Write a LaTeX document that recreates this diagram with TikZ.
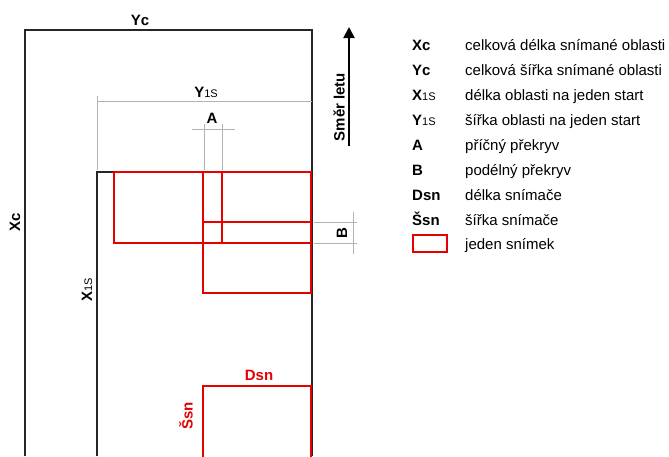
\documentclass[tikz,border=0pt]{standalone}
\usepackage{fontspec}
\setmainfont{Liberation Sans}
\usetikzlibrary{arrows.meta}
\definecolor{snred}{RGB}{230,0,0}
\definecolor{dimgray}{RGB}{178,178,178}
\begin{document}
\begin{tikzpicture}[x=1pt,y=-1pt,
  blk/.style={line width=1.3pt,black!85},
  dimln/.style={line width=1pt,dimgray},
  snim/.style={line width=2.4pt,snred},
  lbl/.style={font=\fontsize{15}{15}\selectfont\bfseries,inner sep=0pt},
  rlbl/.style={font=\fontsize{15}{15}\selectfont\bfseries,inner sep=0pt,text=snred},
  sym/.style={font=\fontsize{15}{15}\selectfont\bfseries,inner sep=0pt,anchor=west,text height=11pt,text depth=3pt},
  desc/.style={font=\fontsize{15}{15}\selectfont,inner sep=0pt,anchor=west,text height=11pt,text depth=3pt}]
\useasboundingbox (0,0) rectangle (669,456);
\newcommand{\subs}[1]{{\fontsize{11}{11}\selectfont\mdseries #1}}
% outer area
\draw[blk] (25,456) -- (25,30) -- (312,30) -- (312,456);
% inner area
\draw[blk] (97,456) -- (97,172) -- (114,172);
% Y1S dimension
\draw[dimln] (97,96) -- (97,170);
\draw[dimln] (97,101) -- (312,101);
% A dimension
\draw[dimln] (192,129) -- (235,129);
\draw[dimln] (204,124) -- (204,170);
\draw[dimln] (222,124) -- (222,170);
% B dimension
\draw[dimln] (314,222) -- (357,222);
\draw[dimln] (314,243) -- (357,243);
\draw[dimln] (353,212) -- (353,254);
% frames
\draw[snim] (114,172) rectangle (222,243);
\draw[snim] (203,172) rectangle (311,243);
\draw[snim] (203,222) rectangle (311,293);
\draw[snim] (203,460) -- (203,386) -- (311,386) -- (311,460);
% labels
\node[lbl] (yc) at (140,20) {Yc};
\node[lbl,rotate=90] (xc) at (15,222) {Xc};
\node[lbl] (y1s) at (206,92) {Y\subs{1S}};
\node[lbl,rotate=90] (x1s) at (87,290) {X\subs{1S}};
\node[lbl] (a) at (212,118) {A};
\node[lbl,rotate=90] (b) at (342,233) {B};
\node[rlbl] (dsn) at (259,375) {Dsn};
\node[rlbl,rotate=90] (ssn) at (186,416) {Šsn};
% flight direction
\coordinate (arrs) at (349,146);
\coordinate (arre) at (349,27);
\draw[line width=2pt,-{Triangle[length=11pt,width=11pt]}] (arrs) -- (arre);
\node[lbl,rotate=90] (smer) at (339,107) {Směr letu};
% legend
\node[sym] (l1) at (412,46) {Xc};
\node[desc] (d1) at (465,46) {celková délka snímané oblasti};
\node[sym] (l2) at (412,71) {Yc};
\node[desc] (d2) at (465,71) {celková šířka snímané oblasti};
\node[sym] (l3) at (412,96) {X\subs{1S}};
\node[desc] (d3) at (465,96) {délka oblasti na jeden start};
\node[sym] (l4) at (412,121) {Y\subs{1S}};
\node[desc] (d4) at (465,121) {šířka oblasti na jeden start};
\node[sym] (l5) at (412,146) {A};
\node[desc] (d5) at (465,146) {příčný překryv};
\node[sym] (l6) at (412,171) {B};
\node[desc] (d6) at (465,171) {podélný překryv};
\node[sym] (l7) at (412,196) {Dsn};
\node[desc] (d7) at (465,196) {délka snímače};
\node[sym] (l8) at (412,221) {Šsn};
\node[desc] (d8) at (465,221) {šířka snímače};
\draw[line width=2.2pt,snred] (413,235) rectangle (447,252);
\node[desc] (d9) at (465,245) {jeden snímek};
\end{tikzpicture}
\end{document}
